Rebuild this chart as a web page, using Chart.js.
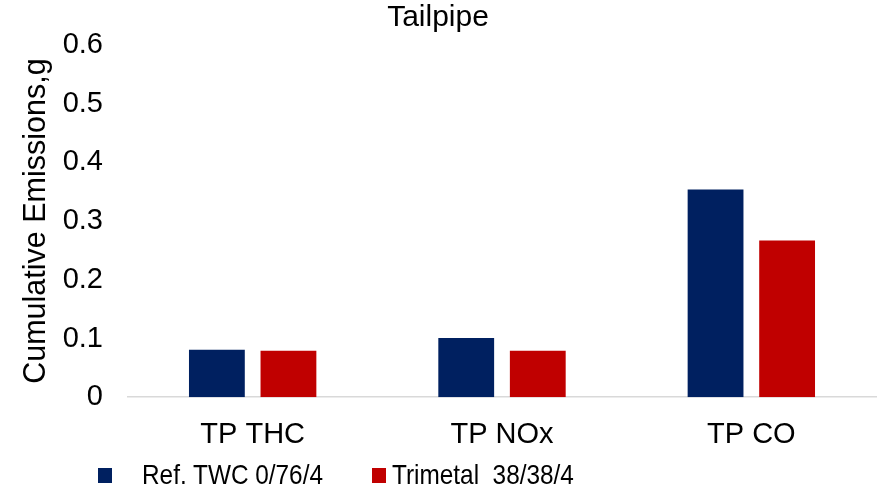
<!DOCTYPE html>
<html>
<head>
<meta charset="utf-8">
<script src="https://cdn.jsdelivr.net/npm/chart.js@4.4.1/dist/chart.umd.min.js"></script>
<style>
  html, body { margin: 0; padding: 0; background: #fff; }
  #wrap { position: relative; width: 877px; height: 491px; }
  #legend { position: absolute; left: 0; top: 0; width: 877px; height: 491px; pointer-events: none;
            font-family: "Liberation Sans", Arial, sans-serif; font-size: 28px; color: #000; }
  .item { position: absolute; top: 461px; height: 30px; white-space: pre; }
  .item .box { position: absolute; left: 0; top: 7px; width: 14px; height: 15px; }
  .item .txt { position: absolute; top: -3px; transform: scaleX(0.87); transform-origin: left center; line-height: 34px; }
</style>
</head>
<body>
<div id="wrap">
  <canvas id="myChart" width="877" height="491"></canvas>
  <div id="legend"></div>
</div>
<script>
const categories = ['TP THC', 'TP NOx', 'TP CO'];
const seriesNames = ['Ref. TWC 0/76/4', 'Trimetal  38/38/4'];
const refTwc = [0.081, 0.101, 0.354];
const trimetal = [0.079, 0.079, 0.267];
const yMin = 0, yMax = 0.6, yStep = 0.1;

const colors = ['#002060', '#C00000'];
const legendLeft = [98, 372];
const legendTextGap = [44, 20];
const font = '"Liberation Sans", Arial, sans-serif';

const ctx = document.getElementById('myChart').getContext('2d');
const chart = new Chart(ctx, {
  type: 'bar',
  data: {
    labels: categories,
    datasets: [
      { label: seriesNames[0], data: refTwc, backgroundColor: colors[0], borderWidth: 0 },
      { label: seriesNames[1], data: trimetal, backgroundColor: colors[1], borderWidth: 0 }
    ]
  },
  options: {
    responsive: false,
    animation: false,
    layout: { padding: { left: 0, right: 1, top: 0, bottom: 19 } },
    datasets: { bar: { categoryPercentage: 0.574, barPercentage: 0.78 } },
    plugins: {
      legend: { display: false },
      tooltip: { enabled: false },
      title: {
        display: true,
        text: 'Tailpipe',
        color: '#000',
        font: { family: font, size: 30, weight: 'normal' },
        padding: { top: 0, bottom: 9 }
      }
    },
    scales: {
      x: {
        grid: { display: false, drawTicks: false },
        border: { display: true, color: '#d9d9d9', width: 1.5 },
        ticks: { color: '#000', padding: 20, font: { family: font, size: 29 } }
      },
      y: {
        min: yMin,
        max: yMax,
        afterFit: scale => { scale.width = 128; },
        grid: { display: false, drawTicks: false },
        border: { display: false },
        ticks: {
          stepSize: yStep,
          color: '#000',
          padding: 25,
          font: { family: font, size: 29 },
          callback: v => v === 0 ? '0' : v.toFixed(1)
        },
        title: {
          display: true,
          text: 'Cumulative Emissions,g',
          color: '#000',
          font: { family: font, size: 30.5 },
          padding: { top: 18, bottom: 10 }
        }
      }
    }
  }
});

// legend built from the series names and colours
const legend = document.getElementById('legend');
seriesNames.forEach((name, i) => {
  const item = document.createElement('div');
  item.className = 'item';
  item.style.left = legendLeft[i] + 'px';
  const box = document.createElement('span');
  box.className = 'box';
  box.style.background = colors[i];
  const txt = document.createElement('span');
  txt.className = 'txt';
  txt.style.left = legendTextGap[i] + 'px';
  txt.textContent = name;
  item.appendChild(box);
  item.appendChild(txt);
  legend.appendChild(item);
});
</script>
</body>
</html>
